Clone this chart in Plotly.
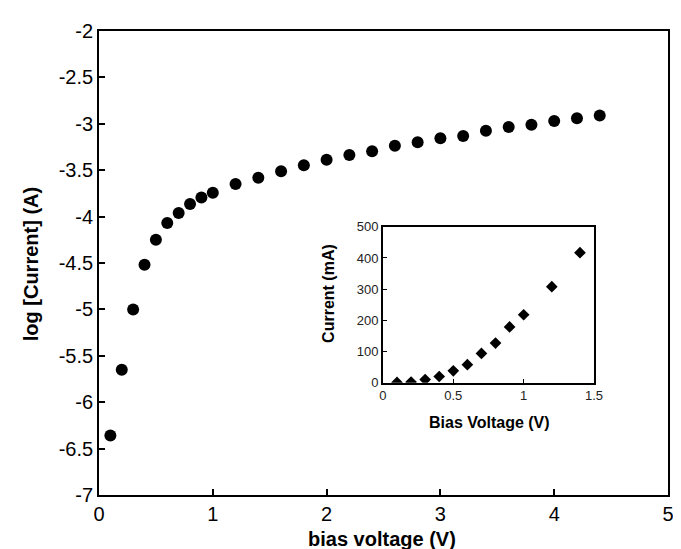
import plotly.graph_objects as go

# Main plot data: log current vs bias voltage
bias_v = [0.1, 0.2, 0.3, 0.4, 0.5, 0.6, 0.7, 0.8, 0.9, 1.0,
          1.2, 1.4, 1.6, 1.8, 2.0, 2.2, 2.4, 2.6, 2.8, 3.0,
          3.2, 3.4, 3.6, 3.8, 4.0, 4.2, 4.4]
log_current = [-6.36, -5.65, -5.00, -4.52, -4.25, -4.07, -3.96, -3.865, -3.795, -3.744,
               -3.648, -3.582, -3.512, -3.446, -3.388, -3.336, -3.296, -3.237, -3.200, -3.156,
               -3.131, -3.076, -3.035, -3.010, -2.969, -2.940, -2.910]

# Inset data: current (mA) vs bias voltage
inset_v = [0.1, 0.2, 0.3, 0.4, 0.5, 0.6, 0.7, 0.8, 0.9, 1.0, 1.2, 1.4]
inset_ma = [1, 2, 10, 20, 38, 58, 94, 127, 179, 218, 308, 417]

main_xticks = [0, 1, 2, 3, 4, 5]
main_yticks = [-7, -6.5, -6, -5.5, -5, -4.5, -4, -3.5, -3, -2.5, -2]
inset_xticks = [0, 0.5, 1, 1.5]
inset_yticks = [0, 100, 200, 300, 400, 500]

FONT = "Liberation Sans, Arial, Helvetica, sans-serif"

fig = go.Figure()
fig.add_trace(go.Scatter(
    x=bias_v, y=log_current, mode="markers",
    marker=dict(symbol="circle", size=12, color="black"),
    xaxis="x", yaxis="y", showlegend=False, hoverinfo="x+y"))
fig.add_trace(go.Scatter(
    x=inset_v, y=inset_ma, mode="markers",
    marker=dict(symbol="diamond", size=9, color="black"),
    xaxis="x2", yaxis="y2", showlegend=False, hoverinfo="x+y"))

axis_common = dict(showgrid=False, zeroline=False, showline=True, linecolor="black",
                   linewidth=1.8, mirror=True, tickcolor="black")

fig.update_layout(
    width=681, height=549,
    margin=dict(l=91, r=13, t=13, b=62),
    paper_bgcolor="white", plot_bgcolor="white",
    font=dict(family=FONT, color="black"),
    xaxis=dict(**axis_common, range=[0, 5], tickvals=main_xticks,
               ticktext=[str(v) for v in main_xticks],
               ticks="inside", ticklen=6, tickwidth=1.5,
               tickfont=dict(size=20), domain=[0, 1], anchor="y"),
    yaxis=dict(**axis_common, ticks="inside", range=[-7, -2], tickvals=main_yticks,
               ticktext=[("%g" % v) for v in main_yticks],
               ticklen=6, tickwidth=1.5,
               tickfont=dict(size=20), domain=[0, 1], anchor="x"),
    xaxis2=dict(**axis_common, ticks="inside", range=[0, 1.5], tickvals=inset_xticks,
                ticktext=["0", "0.5", "1", "1.5"], ticklen=4, tickwidth=1.2,
                tickfont=dict(size=13, color="#222"), domain=[0.499, 0.870], anchor="y2"),
    yaxis2=dict(**axis_common, ticks="inside", range=[0, 500], tickvals=inset_yticks,
                ticktext=[str(v) for v in inset_yticks], ticklen=4, tickwidth=1.2,
                tickfont=dict(size=13, color="#222"), domain=[0.242, 0.578], anchor="x2"),
    annotations=[
        dict(text="<b>bias voltage (V)</b>", xref="paper", yref="paper",
             x=0.497, y=-0.095, xanchor="center", yanchor="middle",
             showarrow=False, font=dict(size=20)),
        dict(text="<b>log [Current] (A)</b>", xref="paper", yref="paper",
             x=-0.118, y=0.497, xanchor="center", yanchor="middle", textangle=-90,
             showarrow=False, font=dict(size=20)),
        dict(text="<b>Bias Voltage (V)</b>", xref="paper", yref="paper",
             x=0.686, y=0.156, xanchor="center", yanchor="middle",
             showarrow=False, font=dict(size=16)),
        dict(text="<b>Current (mA)</b>", xref="paper", yref="paper",
             x=0.402, y=0.435, xanchor="center", yanchor="middle", textangle=-90,
             showarrow=False, font=dict(size=16)),
    ],
)

fig.write_html("out.html")
